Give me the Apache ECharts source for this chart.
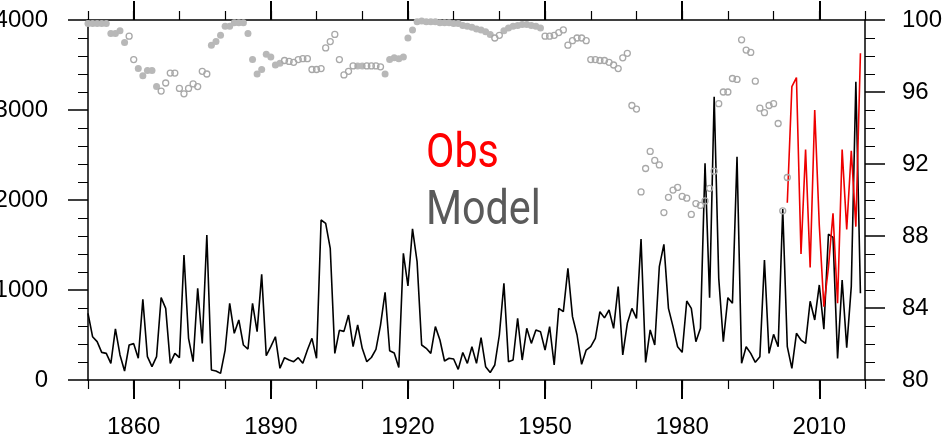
<!DOCTYPE html>
<html>
<head>
<meta charset="utf-8">
<script src="https://cdn.jsdelivr.net/npm/echarts@6/dist/echarts.min.js"></script>
<style>
  html, body { margin: 0; padding: 0; background: #fff; }
  #chart { width: 942px; height: 444px; }
</style>
</head>
<body>
<div id="chart"></div>
<script>
// years on the x axis
const firstYear = 1850
const lastYear = 2020

// model series, one value per year from 1850
const modelValues = [
  741, 481, 426, 307, 296, 185, 567, 278, 100, 389,
  404, 241, 896, 259, 148, 259, 915, 796, 185, 296,
  248, 1389, 463, 204, 1019, 407, 1611, 111, 100, 74,
  333, 852, 519, 667, 389, 344, 852, 537, 1174, 270,
  370, 481, 130, 248, 222, 204, 248, 185, 333, 463,
  241, 1778, 1741, 1463, 296, 552, 540, 722, 370, 611,
  352, 204, 250, 340, 610, 975, 325, 300, 140, 1407,
  1045, 1680, 1315, 389, 352, 296, 593, 444, 211, 241,
  233, 118, 305, 185, 370, 185, 470, 148, 83, 167,
  500, 1074, 204, 222, 685, 222, 574, 407, 556, 537,
  333, 593, 167, 796, 759, 1241, 704, 500, 174, 333,
  370, 463, 759, 690, 778, 574, 1037, 278, 630, 796,
  685, 1567, 196, 556, 389, 1259, 1507, 796, 593, 370,
  307, 878, 796, 426, 574, 2407, 915, 3148, 1130, 426,
  915, 852, 2481, 185, 370, 296, 196, 259, 1333, 296,
  507, 370, 1900, 370, 130, 519, 444, 407, 875, 667,
  1056, 565, 1620, 1585, 240, 1111, 360, 1040, 3315, 963
]

// observations from 2003
const obsStart = 2003
const obsValues = [1970, 3260, 3360, 1400, 2560, 1250, 3000, 1720, 815,
  1250, 1852, 852, 2560, 1674, 2548, 1704, 3630]

// right-axis dots (percent), one per year from 1850
const dotValues = [
  99.8, 99.8, 99.8, 99.8, 99.8, 99.25, 99.25, 99.4, 98.75, 99.1,
  97.8, 97.3, 96.9, 97.2, 97.2, 96.3, 96.05, 96.5, 97.05, 97.05,
  96.2, 95.9, 96.2, 96.45, 96.3, 97.15, 97.0, 98.6, 98.8, 99.15,
  99.65, 99.65, 99.85, 99.85, 99.85, 99.25, 97.8, 97.0, 97.25, 98.1,
  97.95, 97.5, 97.6, 97.75, 97.7, 97.65, 97.8, 97.85, 97.85, 97.25,
  97.25, 97.3, 98.45, 98.8, 99.2, 97.8, 96.95, 97.15, 97.45, 97.45,
  97.45, 97.45, 97.45, 97.45, 97.4, 97.0, 97.8, 97.9, 97.85, 97.95,
  99.0, 99.45, 99.9, 99.95, 99.9, 99.9, 99.9, 99.85, 99.85, 99.85,
  99.8, 99.8, 99.7, 99.65, 99.6, 99.5, 99.45, 99.35, 99.2, 99.0,
  99.15, 99.4, 99.55, 99.65, 99.7, 99.75, 99.75, 99.7, 99.65, 99.55,
  99.1, 99.1, 99.15, 99.3, 99.45, 98.6, 98.85, 99.0, 99.0, 98.85,
  97.8, 97.8, 97.75, 97.75, 97.65, 97.5, 97.3, 97.9, 98.15, 95.25,
  95.05, 90.45, 91.75, 92.7, 92.2, 91.95, 89.3, 90.15, 90.55, 90.7,
  90.2, 90.1, 89.2, 89.8, 89.7, 89.95, 90.65, 91.6, 95.35, 96.0,
  96.0, 96.75, 96.7, 98.9, 98.33, 98.2, 96.6, 95.1, 94.85, 95.25,
  95.35, 94.25, 89.4, 91.25
]
// 1 = filled dot, 0 = open circle
const dotFilled = [
  1, 1, 1, 1, 1, 1, 1, 1, 1, 0,
  0, 1, 1, 1, 1, 1, 0, 0, 0, 0,
  0, 0, 0, 0, 0, 0, 0, 1, 1, 1,
  1, 1, 1, 1, 1, 1, 1, 1, 1, 1,
  1, 1, 1, 0, 0, 0, 0, 0, 0, 0,
  0, 0, 0, 0, 0, 0, 0, 0, 0, 1,
  1, 0, 0, 0, 0, 1, 1, 1, 1, 1,
  1, 1, 1, 1, 1, 1, 1, 1, 1, 1,
  1, 1, 1, 1, 1, 1, 1, 1, 1, 0,
  0, 1, 1, 1, 1, 1, 1, 1, 1, 1,
  0, 0, 0, 0, 0, 0, 0, 0, 0, 0,
  0, 0, 0, 0, 0, 0, 0, 0, 0, 0,
  0, 0, 0, 0, 0, 0, 0, 0, 0, 0,
  0, 0, 0, 0, 0, 0, 0, 0, 0, 0,
  0, 0, 0, 0, 0, 0, 0, 0, 0, 0,
  0, 0, 0, 0
]

const years = []
for (let y = firstYear; y <= lastYear; y++) years.push(String(y))

const modelData = years.map((y, i) => i < modelValues.length ? modelValues[i] : null)
const obsData = years.map(y => {
  let k = +y - obsStart
  return k >= 0 && k < obsValues.length ? obsValues[k] : null
})
const filledDots = []
const openDots = []
dotValues.forEach((v, i) => {
  if (dotFilled[i]) filledDots.push([i, v])
  else openDots.push([i, v])
})

const font = '"Liberation Sans", Helvetica, Arial, sans-serif'
const isMajor = (i, v) => (+v - 1860) % 30 === 0
const isMinor = (i, v) => (+v - 1850) % 10 === 0

function xAx(pos, major, labels) {
  return {
    type: 'category',
    position: pos,
    data: years,
    boundaryGap: false,
    axisLine: { show: major, lineStyle: { color: '#000', width: 1.5 } },
    axisTick: {
      show: true,
      interval: major ? isMajor : isMinor,
      length: major ? 19 : 9,
      lineStyle: { color: '#000', width: major ? 2 : 1.2 }
    },
    axisLabel: {
      show: labels,
      interval: isMajor,
      margin: 35,
      fontSize: 24,
      color: '#000',
      fontFamily: font
    },
    splitLine: { show: false }
  }
}

function yAx(pos, min, max, interval, split, margin) {
  return {
    type: 'value',
    position: pos,
    min: min,
    max: max,
    interval: interval,
    axisLine: { show: true, lineStyle: { color: '#000', width: 1.5 } },
    axisTick: { show: true, length: 20, lineStyle: { color: '#000', width: 1.5 } },
    minorTick: { show: true, splitNumber: split, length: 10, lineStyle: { color: '#000', width: 1 } },
    axisLabel: {
      margin: margin, fontSize: 24, color: '#000', fontFamily: font,
      formatter: v => String(v)
    },
    splitLine: { show: false },
    minorSplitLine: { show: false }
  }
}

let myChart = echarts.init(document.getElementById('chart'))
let option = {
  animation: false,
  backgroundColor: '#fff',
  grid: { left: 88, right: 77, top: 20, bottom: 64, containLabel: false, outerBoundsMode: 'none' },
  xAxis: [
    xAx('bottom', true, true),
    xAx('bottom', false, false),
    xAx('top', true, false),
    xAx('top', false, false)
  ],
  yAxis: [
    yAx('left', 0, 4000, 1000, 5, 40),
    yAx('right', 80, 100, 4, 4, 37)
  ],
  graphic: [
    {
      type: 'text', x: 426, y: 131, scaleX: 0.86,
      style: { text: 'Obs', fill: '#ff0000', font: '48px Roboto' }
    },
    {
      type: 'text', x: 426, y: 188, scaleX: 0.86,
      style: { text: 'Model', fill: '#5a5a5a', font: '48px Roboto' }
    }
  ],
  series: [
    {
      name: 'Model', type: 'line', data: modelData,
      xAxisIndex: 0, yAxisIndex: 0,
      showSymbol: false, symbol: 'none',
      lineStyle: { color: '#000', width: 1.6 }, z: 2
    },
    {
      name: 'Obs', type: 'line', data: obsData,
      xAxisIndex: 0, yAxisIndex: 0,
      showSymbol: false, symbol: 'none',
      lineStyle: { color: '#ee0000', width: 1.6 }, z: 3
    },
    {
      type: 'scatter', data: filledDots,
      xAxisIndex: 0, yAxisIndex: 1,
      symbol: 'circle', symbolSize: 7,
      itemStyle: { color: '#b8b8b8', opacity: 1 }, z: 4
    },
    {
      type: 'scatter', data: openDots,
      xAxisIndex: 0, yAxisIndex: 1,
      symbol: 'circle', symbolSize: 6,
      itemStyle: { color: 'rgba(255,255,255,0)', borderColor: '#a8a8a8', borderWidth: 1.3, opacity: 1 }, z: 4
    }
  ]
}
myChart.setOption(option)
</script>
</body>
</html>
